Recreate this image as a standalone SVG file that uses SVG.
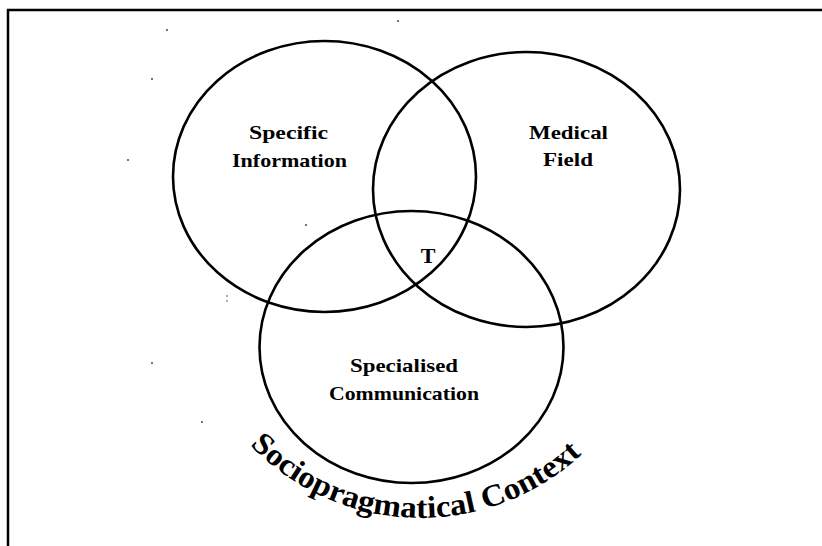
<svg xmlns="http://www.w3.org/2000/svg" width="822" height="546" viewBox="0 0 822 546">
  <style>
    .bg { fill: #ffffff; }
    .frame { fill: none; stroke: #000; stroke-width: 2.5; }
    .set { fill: none; stroke: #000; stroke-width: 2.6; }
    .lbl { font-family: "Liberation Serif", "Times New Roman", serif; font-weight: bold; font-size: 19px; fill: #000; text-anchor: middle; }
    .t { font-size: 22px; }
    .ctx { font-family: "Liberation Serif", "Times New Roman", serif; font-weight: bold; font-size: 31px; fill: #000; }
    .speck { fill: #444; }
  </style>
  <defs>
    <path id="ctxArc" d="M 250 445 A 236 236 0 0 0 582 454"/>
  </defs>
  <rect class="bg" x="0" y="0" width="822" height="546"/>
  <path class="frame" d="M 8 546 V 10 H 822"/>

  <g id="specks">
    <circle class="speck" cx="167" cy="30" r="1"/>
    <circle class="speck" cx="398" cy="21" r="1"/>
    <circle class="speck" cx="152" cy="79" r="1"/>
    <circle class="speck" cx="128" cy="160" r="1"/>
    <circle class="speck" cx="306" cy="225" r="1"/>
    <circle class="speck" cx="227" cy="296" r="0.8"/>
    <circle class="speck" cx="227" cy="301" r="0.8"/>
    <circle class="speck" cx="152" cy="363" r="1"/>
    <circle class="speck" cx="202" cy="422" r="1"/>
  </g>

  <g id="specific-information">
    <ellipse class="set" cx="324.5" cy="176.5" rx="151.5" ry="135.5"/>
    <text class="lbl" x="288.5" y="139" textLength="79" lengthAdjust="spacingAndGlyphs">Specific</text>
    <text class="lbl" x="289.5" y="166.5" textLength="115" lengthAdjust="spacingAndGlyphs">Information</text>
  </g>

  <g id="medical-field">
    <ellipse class="set" cx="526.5" cy="189.5" rx="153.5" ry="137.5"/>
    <text class="lbl" x="568.5" y="139" textLength="79" lengthAdjust="spacingAndGlyphs">Medical</text>
    <text class="lbl" x="568" y="166" textLength="50" lengthAdjust="spacingAndGlyphs">Field</text>
  </g>

  <g id="specialised-communication">
    <ellipse class="set" cx="411.5" cy="347" rx="152" ry="136"/>
    <text class="lbl" x="404" y="371.5" textLength="108" lengthAdjust="spacingAndGlyphs">Specialised</text>
    <text class="lbl" x="404" y="400" textLength="150" lengthAdjust="spacingAndGlyphs">Communication</text>
  </g>

  <g id="intersection-T">
    <text class="lbl t" x="428" y="263">T</text>
  </g>

  <g id="sociopragmatical-context">
    <text class="ctx"><textPath href="#ctxArc" startOffset="0" textLength="368" lengthAdjust="spacingAndGlyphs">Sociopragmatical Context</textPath></text>
  </g>

  <g id="connectors"></g>
</svg>
